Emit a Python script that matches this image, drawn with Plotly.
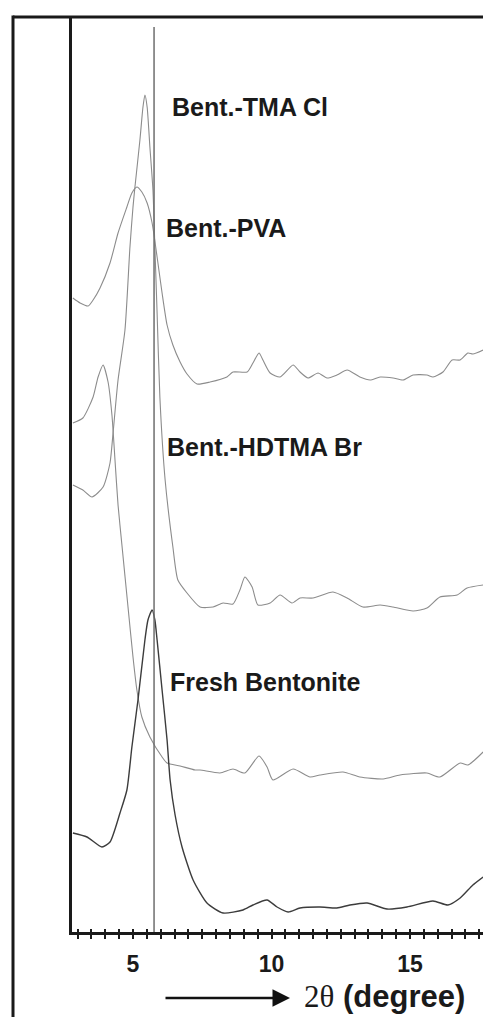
import plotly.graph_objects as go

# ---------------- data (2θ in degrees, intensity in arbitrary units, offsets included) -------------
two_theta_ticks = [5, 10, 15]
tick_labels = ["5", "10", "15"]

series_names = ["Bent.-TMA Cl", "Bent.-PVA", "Bent.-HDTMA Br", "Fresh Bentonite"]

pva_x = [2.83, 3.09, 3.38, 3.56, 3.81, 4.17, 4.46, 4.78, 4.96, 5.14, 5.32, 5.51, 5.69, 5.87,
         6.05, 6.23, 6.44, 6.70, 6.95, 7.31, 7.78, 8.39, 8.61, 9.12, 9.33, 9.55, 9.69, 9.95,
         10.31, 10.78, 11.03, 11.32, 11.68, 12.00, 12.36, 12.73, 13.19, 13.56, 13.92, 14.39,
         14.75, 15.11, 15.61, 15.83, 16.19, 16.52, 16.81, 17.09, 17.27, 17.64]
pva_y = [635, 630, 627, 633, 645, 670, 700, 726, 740, 746, 741, 730, 710, 676,
         640, 608, 588, 571, 559, 549, 551, 556, 561, 561, 570, 580, 573, 560,
         556, 568, 561, 555, 560, 555, 558, 563, 556, 553, 556, 555,
         553, 558, 558, 556, 561, 573, 573, 580, 579, 583]

tma_x = [2.83, 3.19, 3.52, 3.92, 4.17, 4.28, 4.46, 4.71, 4.89, 5.00, 5.07, 5.25, 5.36, 5.43,
         5.51, 5.61, 5.72, 5.79, 5.87, 5.97, 6.16, 6.44, 6.62, 6.95, 7.42, 7.89, 8.25, 8.61,
         8.86, 9.04, 9.30, 9.51, 9.95, 10.31, 10.74, 11.03, 11.50, 12.22, 12.73, 13.30,
         13.92, 14.39, 15.11, 15.61, 16.08, 16.70, 17.06, 17.64]
tma_y = [448, 443, 436, 446, 470, 500, 553, 603, 686, 726, 746, 793, 826, 838,
         826, 786, 743, 686, 620, 536, 453, 386, 353, 340, 326, 326, 330, 329,
         343, 356, 346, 328, 330, 338, 330, 335, 335, 341, 335, 326,
         328, 326, 322, 325, 336, 338, 345, 348]

hdtma_x = [2.83, 3.19, 3.56, 3.74, 3.92, 4.10, 4.24, 4.35, 4.46, 4.60, 4.82, 5.00, 5.14,
           5.32, 5.61, 6.05, 6.23, 6.70, 7.24, 7.42, 8.14, 8.61, 9.04, 9.55, 9.84, 10.05,
           10.78, 11.39, 11.75, 12.58, 13.19, 14.03, 14.64, 15.61, 16.08, 16.81, 17.09, 17.64]
hdtma_y = [510, 515, 536, 556, 568, 551, 518, 473, 428, 388, 326, 276, 243,
           216, 196, 176, 170, 167, 163, 163, 160, 164, 160, 177, 166, 153,
           164, 156, 158, 161, 156, 154, 158, 160, 156, 170, 168, 181]

fresh_x = [2.83, 3.34, 3.88, 4.17, 4.53, 4.78, 4.96, 5.18, 5.43, 5.54, 5.69, 5.79, 5.87,
           6.05, 6.23, 6.34, 6.52, 6.77, 7.17, 7.67, 8.25, 8.97, 9.33, 9.84, 10.20, 10.60,
           11.03, 11.75, 12.36, 12.83, 13.45, 14.17, 14.89, 15.83, 16.37, 16.81, 17.27, 17.64]
fresh_y = [100, 96, 86, 91, 120, 143, 186, 233, 293, 313, 323, 313, 293,
           243, 193, 153, 118, 86, 53, 30, 20, 23, 28, 33, 26, 21,
           25, 26, 25, 28, 30, 24, 26, 32, 28, 35, 48, 56]

reference_line_x = 5.76

# ---------------- figure ----------------
W, H = 483, 1017
ML, MR, MT, MB = 72, 0, 18, 85
X_RANGE = [2.798, 17.635]
Y_RANGE = [1, 915]
plot_w = W - ML - MR
plot_h = H - MT - MB

fig = go.Figure()

light = "#8c8c8c"
dark = "#3c3c3c"

for xs, ys, col, wd, nm in [
    (pva_x, pva_y, light, 1.1, series_names[1]),
    (tma_x, tma_y, light, 1.1, series_names[0]),
    (hdtma_x, hdtma_y, light, 1.1, series_names[2]),
    (fresh_x, fresh_y, dark, 1.4, series_names[3]),
]:
    fig.add_trace(go.Scatter(x=xs, y=ys, mode="lines", name=nm,
                             line=dict(color=col, width=wd, shape="spline", smoothing=0.6),
                             showlegend=False, hoverinfo="skip"))

# dummy trace on overlay axis so it renders
fig.add_trace(go.Scatter(x=[X_RANGE[0]], y=[Y_RANGE[0]], xaxis="x2", mode="markers",
                         marker=dict(opacity=0), showlegend=False, hoverinfo="skip"))

label_pos = [  # (x in deg, y in a.u.)
    (6.34, 826), (6.12, 705), (6.16, 486), (6.26, 251)
]
for nm, (lx, ly) in zip(series_names, label_pos):
    fig.add_annotation(x=lx, y=ly, xref="x", yref="y", text=nm, showarrow=False,
                       xanchor="left", yanchor="middle",
                       font=dict(family="Liberation Sans, Arial", size=25, color="#1a1a1a",
                                 weight="bold"))

# vertical reference line
fig.add_shape(type="line", xref="x", yref="paper", x0=reference_line_x, x1=reference_line_x,
              y0=0, y1=(915 - 10) / 914, line=dict(color="#6e6e6e", width=1.5))

# outer frame (top and far-left lines)
left_px = 13
top_left_paper = (left_px - ML) / plot_w
fig.add_shape(type="line", xref="paper", yref="paper", x0=top_left_paper, x1=1.01,
              y0=1 + 1.0 / plot_h, y1=1 + 1.0 / plot_h, line=dict(color="#1a1a1a", width=3))
fig.add_shape(type="line", xref="paper", yref="paper", x0=top_left_paper, x1=top_left_paper,
              y0=-0.2, y1=1 + 2.5 / plot_h, line=dict(color="#1a1a1a", width=3))

# axis title arrow + text
arrow_head_paper = (290 - ML) / plot_w
arrow_y_paper = (MT + plot_h - 998) / plot_h
fig.add_annotation(x=arrow_head_paper, y=arrow_y_paper, xref="paper", yref="paper",
                   text="", showarrow=True, ax=-126, ay=0, axref="pixel", ayref="pixel",
                   arrowhead=2, arrowsize=1.4, arrowwidth=2.5, arrowcolor="#111")
fig.add_annotation(x=(302 - ML) / plot_w, y=(MT + plot_h - 996) / plot_h,
                   xref="paper", yref="paper", xanchor="left", yanchor="middle",
                   showarrow=False,
                   text='<span style="font-family:\'Liberation Serif\',serif;font-weight:normal">2θ</span> (degree)',
                   font=dict(family="Liberation Sans, Arial", size=31, color="#1a1a1a", weight="bold"))

fig.update_layout(
    width=W, height=H,
    margin=dict(l=ML, r=MR, t=MT, b=MB),
    paper_bgcolor="white", plot_bgcolor="white",
    xaxis=dict(range=X_RANGE, showgrid=False, zeroline=False, showline=True,
               linecolor="#1a1a1a", linewidth=3,
               tickmode="array", tickvals=two_theta_ticks, ticktext=tick_labels,
               ticks="outside", ticklen=4, tickwidth=1.5, tickcolor="#1a1a1a",
               minor=dict(dtick=0.5, tick0=0, ticks="outside", ticklen=4, tickwidth=1.5,
                          tickcolor="#1a1a1a", showgrid=False),
               tickfont=dict(family="Liberation Sans, Arial", size=23, color="#1a1a1a",
                             weight="bold"),
               ticklabelstandoff=5),
    xaxis2=dict(range=X_RANGE, overlaying="x", anchor="y", side="bottom",
                showgrid=False, zeroline=False, showline=False, showticklabels=False,
                tickmode="linear", tick0=0, dtick=0.5, ticks="inside", ticklen=3,
                tickwidth=1.5, tickcolor="#1a1a1a"),
    yaxis=dict(range=Y_RANGE, showgrid=False, zeroline=False, showline=True,
               linecolor="#1a1a1a", linewidth=3, showticklabels=False, ticks=""),
)

fig.write_html("out.html")
